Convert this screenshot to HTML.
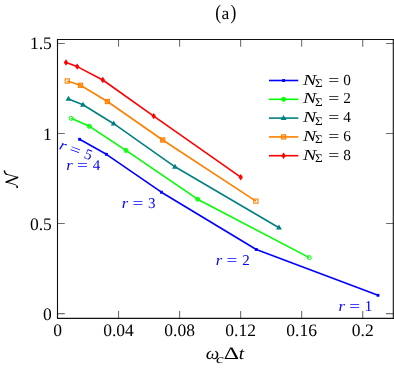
<!DOCTYPE html>
<html><head><meta charset="utf-8"><title>plot</title>
<style>
html,body{margin:0;padding:0;background:#fff;}
body{width:394px;height:368px;overflow:hidden;}
svg{display:block;will-change:transform;}
text{font-family:"Liberation Serif",serif;text-rendering:geometricPrecision;}
.tk{font-size:17.5px;fill:#000;}
.lg{font-size:15.3px;fill:#000;}
.rl{font-size:15px;fill:#0000ff;}
.it{font-style:italic;}
</style></head><body>
<svg width="394" height="368" viewBox="0 0 394 368">
<rect width="394" height="368" fill="#fff"/>

<path d="M57.50,318.4 v-7.3 M57.50,39.55 v7.3 M118.54,318.4 v-7.3 M118.54,39.55 v7.3 M179.58,318.4 v-7.3 M179.58,39.55 v7.3 M240.62,318.4 v-7.3 M240.62,39.55 v7.3 M301.66,318.4 v-7.3 M301.66,39.55 v7.3 M362.70,318.4 v-7.3 M362.70,39.55 v7.3 M57.5,313.60 h7.3 M393.3,313.60 h-7.3 M57.5,223.55 h7.3 M393.3,223.55 h-7.3 M57.5,133.50 h7.3 M393.3,133.50 h-7.3 M57.5,43.45 h7.3 M393.3,43.45 h-7.3" stroke="#707070" stroke-width="1.1" fill="none"/>
<path d="M57.5,39.55 H394.5 M57.5,318.4 H394.5 M57.5,39.05 V318.9 M393.3,39.55 V318.4" fill="none" stroke="#111" stroke-width="1.1"/>
<path d="M79.6,139.3 L106.4,154.3 L161.4,192.2 L256.3,249.5 L378,295.3" stroke="#0000ff" stroke-width="1.6" fill="none" stroke-linejoin="round"/>
<rect x="78.14999999999999" y="137.85000000000002" width="2.9" height="2.9" fill="#0000ff"/>
<rect x="104.95" y="152.85000000000002" width="2.9" height="2.9" fill="#0000ff"/>
<rect x="159.95000000000002" y="190.75" width="2.9" height="2.9" fill="#0000ff"/>
<rect x="254.85000000000002" y="248.05" width="2.9" height="2.9" fill="#0000ff"/>
<rect x="376.55" y="293.85" width="2.9" height="2.9" fill="#0000ff"/>
<path d="M71.2,118.3 L89.4,126.3 L126,150.4 L197.6,199.2 L309.3,257.6" stroke="#00ff00" stroke-width="1.6" fill="none" stroke-linejoin="round"/>
<circle cx="71.2" cy="118.3" r="2.0" fill="#00ff00" fill-opacity="0" stroke="#00ff00" stroke-width="1"/>
<circle cx="89.4" cy="126.3" r="2.0" fill="#00ff00" fill-opacity="0.6" stroke="#00ff00" stroke-width="1"/>
<circle cx="126" cy="150.4" r="2.0" fill="#00ff00" fill-opacity="0.6" stroke="#00ff00" stroke-width="1"/>
<circle cx="197.6" cy="199.2" r="2.0" fill="#00ff00" fill-opacity="0.6" stroke="#00ff00" stroke-width="1"/>
<circle cx="309.3" cy="257.6" r="2.0" fill="#00ff00" fill-opacity="0" stroke="#00ff00" stroke-width="1"/>
<path d="M68.5,98.9 L83,104.8 L113.7,123.7 L175,166.8 L279,227.7" stroke="#008080" stroke-width="1.6" fill="none" stroke-linejoin="round"/>
<path d="M68.5,95.80000000000001 L71.445,100.822 L65.555,100.822Z" fill="#008080"/>
<path d="M83,101.7 L85.945,106.722 L80.055,106.722Z" fill="#008080"/>
<path d="M113.7,120.60000000000001 L116.645,125.622 L110.75500000000001,125.622Z" fill="#008080"/>
<path d="M175,163.70000000000002 L177.945,168.722 L172.055,168.722Z" fill="#008080"/>
<path d="M279,224.6 L281.945,229.62199999999999 L276.055,229.62199999999999Z" fill="#008080"/>
<path d="M67.3,81 L80.5,85.3 L107.4,101.5 L162.7,140 L255.9,201.1" stroke="#ff8000" stroke-width="1.6" fill="none" stroke-linejoin="round"/>
<rect x="65.2" y="78.9" width="4.2" height="4.2" fill="#ff8000" fill-opacity="0" stroke="#ff8000" stroke-width="1.1"/>
<rect x="78.4" y="83.2" width="4.2" height="4.2" fill="#ff8000" fill-opacity="0.6" stroke="#ff8000" stroke-width="1.1"/>
<rect x="105.30000000000001" y="99.4" width="4.2" height="4.2" fill="#ff8000" fill-opacity="0.6" stroke="#ff8000" stroke-width="1.1"/>
<rect x="160.6" y="137.9" width="4.2" height="4.2" fill="#ff8000" fill-opacity="0.6" stroke="#ff8000" stroke-width="1.1"/>
<rect x="253.8" y="199.0" width="4.2" height="4.2" fill="#ff8000" fill-opacity="0" stroke="#ff8000" stroke-width="1.1"/>
<path d="M66,62.5 L77.2,66.6 L102.8,80 L153.7,116.1 L240.7,177.2" stroke="#ff0000" stroke-width="1.6" fill="none" stroke-linejoin="round"/>
<path d="M66,59.3 L68.2,62.5 L66,65.7 L63.8,62.5Z" fill="#ff0000"/>
<path d="M77.2,63.39999999999999 L79.4,66.6 L77.2,69.8 L75.0,66.6Z" fill="#ff0000"/>
<path d="M102.8,76.8 L105.0,80 L102.8,83.2 L100.6,80Z" fill="#ff0000"/>
<path d="M153.7,112.89999999999999 L155.89999999999998,116.1 L153.7,119.3 L151.5,116.1Z" fill="#ff0000"/>
<path d="M240.7,174.0 L242.89999999999998,177.2 L240.7,180.39999999999998 L238.5,177.2Z" fill="#ff0000"/>
<path d="M269,80.5 H298.3" stroke="#0000ff" stroke-width="1.6"/>
<rect x="282.15000000000003" y="79.05" width="2.9" height="2.9" fill="#0000ff"/>
<text class="lg it" transform="translate(303.0,84.5) scale(1.3,1)">N</text>
<text class="lg" style="font-size:11.8px" transform="translate(315.0,87.0) scale(1.12,1)">Σ</text>
<text class="lg" transform="translate(328.3,84.5) scale(1.28,1)">=</text>
<text class="lg" x="343.3" y="84.5">0</text>
<path d="M269,99.3 H298.3" stroke="#00ff00" stroke-width="1.6"/>
<circle cx="283.6" cy="99.3" r="2.0" fill="#00ff00" fill-opacity="0.9" stroke="#00ff00" stroke-width="1"/>
<text class="lg it" transform="translate(303.0,103.3) scale(1.3,1)">N</text>
<text class="lg" style="font-size:11.8px" transform="translate(315.0,105.8) scale(1.12,1)">Σ</text>
<text class="lg" transform="translate(328.3,103.3) scale(1.28,1)">=</text>
<text class="lg" x="343.3" y="103.3">2</text>
<path d="M269,118.1 H298.3" stroke="#008080" stroke-width="1.6"/>
<path d="M283.6,115.0 L286.545,120.02199999999999 L280.65500000000003,120.02199999999999Z" fill="#008080"/>
<text class="lg it" transform="translate(303.0,122.1) scale(1.3,1)">N</text>
<text class="lg" style="font-size:11.8px" transform="translate(315.0,124.6) scale(1.12,1)">Σ</text>
<text class="lg" transform="translate(328.3,122.1) scale(1.28,1)">=</text>
<text class="lg" x="343.3" y="122.1">4</text>
<path d="M269,136.9 H298.3" stroke="#ff8000" stroke-width="1.6"/>
<rect x="281.5" y="134.8" width="4.2" height="4.2" fill="#ff8000" fill-opacity="0.4" stroke="#ff8000" stroke-width="1.1"/>
<text class="lg it" transform="translate(303.0,140.9) scale(1.3,1)">N</text>
<text class="lg" style="font-size:11.8px" transform="translate(315.0,143.4) scale(1.12,1)">Σ</text>
<text class="lg" transform="translate(328.3,140.9) scale(1.28,1)">=</text>
<text class="lg" x="343.3" y="140.9">6</text>
<path d="M269,155.7 H298.3" stroke="#ff0000" stroke-width="1.6"/>
<path d="M283.6,152.5 L285.8,155.7 L283.6,158.89999999999998 L281.40000000000003,155.7Z" fill="#ff0000"/>
<text class="lg it" transform="translate(303.0,159.7) scale(1.3,1)">N</text>
<text class="lg" style="font-size:11.8px" transform="translate(315.0,162.2) scale(1.12,1)">Σ</text>
<text class="lg" transform="translate(328.3,159.7) scale(1.28,1)">=</text>
<text class="lg" x="343.3" y="159.7">8</text>
<text class="tk" x="57.50" y="335.5" text-anchor="middle">0</text>
<text class="tk" x="118.54" y="335.5" text-anchor="middle">0.04</text>
<text class="tk" x="179.58" y="335.5" text-anchor="middle">0.08</text>
<text class="tk" x="240.62" y="335.5" text-anchor="middle">0.12</text>
<text class="tk" x="301.66" y="335.5" text-anchor="middle">0.16</text>
<text class="tk" x="362.70" y="335.5" text-anchor="middle">0.2</text>
<text class="tk" x="51.8" y="319.60" text-anchor="end">0</text>
<text class="tk" x="51.8" y="229.55" text-anchor="end">0.5</text>
<text class="tk" x="51.8" y="139.50" text-anchor="end">1</text>
<text class="tk" x="51.8" y="49.45" text-anchor="end">1.5</text>
<text class="tk" style="font-size:17.5px" transform="translate(215.2,18.7) scale(1,1.18)">(</text>
<text class="tk" style="font-size:17.5px" x="221.5" y="18.8">a</text>
<text class="tk" style="font-size:17.5px" transform="translate(230.6,18.7) scale(1,1.18)">)</text>
<text class="tk it" transform="translate(205.7,359.3) scale(1.09,1)">ω</text>
<text class="tk it" style="font-size:12.5px" transform="translate(216.0,362.6) scale(1.4,1)">c</text>
<text class="tk" transform="translate(223.8,359.3) scale(1.36,1)">Δ</text>
<text class="tk it" transform="translate(238.8,359.3) scale(1.1,1)">t</text>
<g fill="none" stroke="#000" stroke-linecap="round" stroke-linejoin="round"><path d="M4.4,170.9 C4.5,172.3 5,173.6 6.2,174.2" stroke-width="1.5"/><path d="M6.2,174.2 C9,174.9 14,176.2 17.6,177.4" stroke-width="0.9"/><path d="M17.6,177.4 L6.3,182.1" stroke-width="1.6"/><path d="M6.3,182.1 C9.5,183 13,183.9 15.2,184.7 C16.6,185.3 17.3,186 17.2,187.2" stroke-width="0.9"/><path d="M17.3,186.4 L17.1,187.4" stroke-width="1.5"/></g>
<g><text class="rl it" transform="translate(338.40000000000003,310.8) scale(1.1,1)">r</text><text class="rl" transform="translate(349.20000000000005,310.8) scale(1.28,1)">=</text><text class="rl" x="364.8" y="310.8">1</text></g>
<g><text class="rl it" transform="translate(215.8,264.5) scale(1.1,1)">r</text><text class="rl" transform="translate(226.6,264.5) scale(1.28,1)">=</text><text class="rl" x="242.2" y="264.5">2</text></g>
<g><text class="rl it" transform="translate(121.7,208.1) scale(1.1,1)">r</text><text class="rl" transform="translate(132.5,208.1) scale(1.28,1)">=</text><text class="rl" x="148.1" y="208.1">3</text></g>
<g><text class="rl it" transform="translate(66.3,169.9) scale(1.1,1)">r</text><text class="rl" transform="translate(77.1,169.9) scale(1.28,1)">=</text><text class="rl" x="92.7" y="169.9">4</text></g>
<g transform="rotate(20 58.6 148.8)"><text class="rl it" transform="translate(58.4,148.8) scale(1.1,1)">r</text><text class="rl" transform="translate(69.2,148.8) scale(1.28,1)">=</text><text class="rl" x="84.8" y="148.8">5</text></g>
</svg></body></html>
